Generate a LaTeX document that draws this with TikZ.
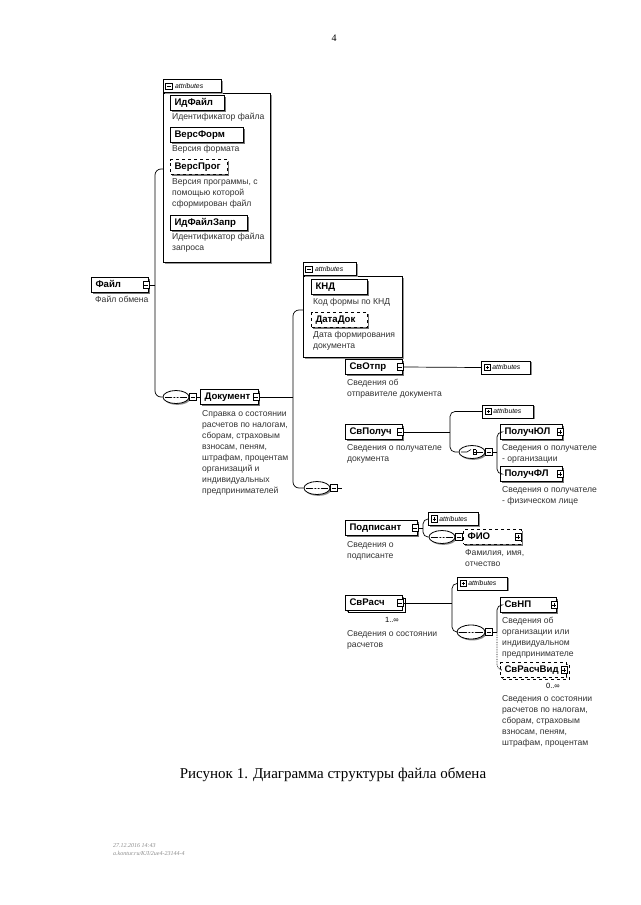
\documentclass[tikz,border=0pt]{standalone}
\usepackage{fontspec}
\setmainfont{Liberation Sans}
\newfontfamily\seriffont{Liberation Serif}
\usetikzlibrary{shadows,shapes.geometric,calc}
\begin{document}
\begin{tikzpicture}[x=1pt,y=-1pt,
  conn/.style={line width=0.7pt},
  el/.style={draw, line width=1.1pt, fill=white, anchor=west, minimum height=14.5pt,
    inner xsep=4pt, inner ysep=0pt, text height=7pt, text depth=2pt,
    font=\bfseries\fontsize{9.6}{10}\selectfont, align=left,
    drop shadow={shadow xshift=1.6pt, shadow yshift=-1.6pt, fill=black!55, opacity=1}},
  multi/.style={copy shadow={shadow xshift=2.5pt, shadow yshift=-2.5pt, draw, fill=white}},
  sqm/.style={draw, line width=0.6pt, fill=white, minimum size=6.5pt, inner sep=0pt,
    path picture={\draw[line width=0.6pt] ([xshift=1.3pt]path picture bounding box.west) -- ([xshift=-1.3pt]path picture bounding box.east);}},
  sqp/.style={draw, line width=0.6pt, fill=white, minimum size=6.5pt, inner sep=0pt,
    path picture={\draw[line width=0.6pt] ([xshift=1.3pt]path picture bounding box.west) -- ([xshift=-1.3pt]path picture bounding box.east)
      ([yshift=1.3pt]path picture bounding box.south) -- ([yshift=-1.3pt]path picture bounding box.north);}},
  ov/.style={ellipse, draw, line width=0.8pt, fill=white, minimum width=26pt, minimum height=13pt, inner sep=0pt,
    drop shadow={shadow xshift=1.4pt, shadow yshift=-1.4pt, fill=black!45, opacity=1}},
  seqsym/.style={path picture={
    \draw[line width=0.6pt] ([xshift=2pt]path picture bounding box.west) -- ([xshift=-2pt]path picture bounding box.east);
    \foreach \d in {-3.2,0,3.2} \fill ([xshift=\d pt]path picture bounding box.center) circle (1.1pt);}},
  chsym/.style={path picture={
    \draw[line width=0.6pt] ([xshift=2pt]path picture bounding box.west) -- ([xshift=-5pt]path picture bounding box.center) -- ([xshift=-1pt,yshift=2.5pt]path picture bounding box.center);
    \draw[line width=0.6pt] ([xshift=1pt,yshift=3.2pt]path picture bounding box.center) -- ([xshift=1pt,yshift=-3.2pt]path picture bounding box.center);
    \foreach \d in {-2.5,0,2.5} \draw[line width=0.6pt] ([xshift=1pt,yshift=\d pt]path picture bounding box.center) -- ([xshift=4pt,yshift=\d pt]path picture bounding box.center);
    \draw[line width=0.6pt] ([xshift=4pt,yshift=2.5pt]path picture bounding box.center) -- ([xshift=4pt,yshift=-2.5pt]path picture bounding box.center);
    \draw[line width=0.6pt] ([xshift=4pt]path picture bounding box.center) -- ([xshift=-2pt]path picture bounding box.east);}},
  cont/.style={draw, line width=0.6pt, fill=white, inner sep=0pt, anchor=north west,
    drop shadow={shadow xshift=1.2pt, shadow yshift=-1.2pt, fill=black!40, opacity=1}},
  tab/.style={draw, line width=0.6pt, fill=white, inner sep=0pt, anchor=south west, minimum height=13pt,
    drop shadow={shadow xshift=1.2pt, shadow yshift=-1.2pt, fill=black!40, opacity=1}},
  tabtxt/.style={anchor=west, inner sep=0pt, font=\itshape\fontsize{6.8}{7}\selectfont},
  attc/.style={draw, line width=0.8pt, fill=white, anchor=west, minimum height=13pt, inner xsep=2pt, inner ysep=0pt,
    font=\itshape\fontsize{6.8}{7}\selectfont, align=left,
    drop shadow={shadow xshift=1.4pt, shadow yshift=-1.4pt, fill=black!45, opacity=1}},
  desc/.style={anchor=north west, align=left, inner sep=0pt, font=\fontsize{8.6}{11}\selectfont, text=black!80},
  mult/.style={inner sep=0pt, font=\fontsize{7.5}{8}\selectfont}
]
\fill[white] (0,0) rectangle (640,905);
\useasboundingbox (0,0) rectangle (640,905);

\node[font=\seriffont\fontsize{10}{12}\selectfont] (pg) at (334,38) {4};

% ---------- first attributes group
\node[cont, minimum width=107pt, minimum height=169pt] (attr1) at (163,93) {};
\node[tab, minimum width=58pt] (tab1) at (163,93) {};
\node[sqm] (tab1sq) at ([xshift=6pt]tab1.west) {};
\node[tabtxt] (tab1t) at ([xshift=12pt]tab1.west) {attributes};

\node[el, text width=46pt] (idf) at (170,103) {ИдФайл};
\node[desc] (idfd) at (172,113) {Идентификатор файла};
\node[el, text width=65pt] (vf) at (170,135) {ВерсФорм};
\node[desc] (vfd) at (172,145) {Версия формата};
\node[el, dashed, text width=49pt] (vp) at (170,167) {ВерсПрог};
\node[desc] (vpd) at (172,178) {Версия программы, с\\помощью которой\\сформирован файл};
\node[el, text width=69pt] (idfz) at (170,223) {ИдФайлЗапр};
\node[desc] (idfzd) at (172,233) {Идентификатор файла\\запроса};

% ---------- Файл
\node[el, text width=49pt] (fajl) at (91,285) {Файл};
\node[sqm] (fajlsq) at ([xshift=-3pt]fajl.east) {};
\node[desc] (fajld) at (95,296) {Файл обмена};

\coordinate (a1in) at (163,169);
\coordinate (j1) at (155,285);

% ---------- Документ
\node[ov, seqsym] (ov1) at (176,397) {};
\node[sqm] (ov1sq) at ([xshift=3.2pt]ov1.east) {};
\node[el, text width=50pt] (dok) at (200,397) {Документ};
\node[sqm] (doksq) at ([xshift=-3pt]dok.east) {};
\node[desc] (dokd) at (202,410) {Справка о состоянии\\расчетов по налогам,\\сборам, страховым\\взносам, пеням,\\штрафам, процентам\\организаций и\\индивидуальных\\предпринимателей};

\draw[conn] (fajlsq.east) -- (j1);
\draw[conn, rounded corners=6pt] (a1in) -- (155,169) -- (155,397) -- (ov1.west);
\draw[conn] (ov1sq.east) -- (dok.west);

% ---------- second attributes group
\node[cont, minimum width=99pt, minimum height=81pt] (attr2) at (303,276) {};
\node[tab, minimum width=53pt] (tab2) at (303,276) {};
\node[sqm] (tab2sq) at ([xshift=6pt]tab2.west) {};
\node[tabtxt] (tab2t) at ([xshift=12pt]tab2.west) {attributes};
\node[el, text width=48pt] (knd) at (311,287) {КНД};
\node[desc] (kndd) at (313,298) {Код формы по КНД};
\node[el, dashed, text width=48pt] (dd) at (311,320) {ДатаДок};
\node[desc] (ddd) at (313,331) {Дата формирования\\документа};

\coordinate (j2) at (293,397);
\coordinate (a2in) at (303,310);
\node[ov, seqsym] (ov2) at (317,488) {};
\node[sqm] (ov2sq) at ([xshift=3.2pt]ov2.east) {};
\draw[conn] (doksq.east) -- (j2);
\draw[conn, rounded corners=6pt] (a2in) -- (293,310) -- (293,488) -- (ov2.west);
\coordinate (j3) at (342,488);
\draw[conn] (ov2sq.east) -- (j3);

% ---------- СвОтпр
\node[el, text width=49pt] (svo) at (345,367) {СвОтпр};
\node[sqm] (svosq) at ([xshift=-3pt]svo.east) {};
\node[desc] (svod) at (347,379) {Сведения об\\отправителе документа};
\node[attc, text width=45pt] (svoa) at (481,367.5) {\hspace*{9pt}attributes};
\node[sqp] (svoasq) at ([xshift=6.5pt]svoa.west) {};
\draw[conn] (svosq.east) -- (svoa.west);

% ---------- СвПолуч
\node[el, text width=49pt] (svp) at (345,432) {СвПолуч};
\node[sqm] (svpsq) at ([xshift=-3pt]svp.east) {};
\node[desc] (svpd) at (347,444) {Сведения о получателе\\документа};
\coordinate (j4) at (450,432);
\draw[conn] (svpsq.east) -- (j4);
\node[attc, text width=47pt] (svpa) at (482,411.5) {\hspace*{9pt}attributes};
\node[sqp] (svpasq) at ([xshift=6.5pt]svpa.west) {};
\node[ov, chsym] (ov3) at (472,452) {};
\node[sqm] (ov3sq) at ([xshift=3.2pt]ov3.east) {};
\draw[conn, rounded corners=5pt] (svpa.west) -- (450,411.5) -- (450,452) -- (ov3.west);
\coordinate (j5) at (497,452);
\draw[conn] (ov3sq.east) -- (j5);
\node[el, text width=54pt] (pul) at (500,432) {ПолучЮЛ};
\node[sqp] (pulsq) at ([xshift=-3pt]pul.east) {};
\node[desc] (puld) at (502,444) {Сведения о получателе\\- организации};
\node[el, text width=54pt] (pfl) at (500,474) {ПолучФЛ};
\node[sqp] (pflsq) at ([xshift=-3pt]pfl.east) {};
\node[desc] (pfld) at (502,486) {Сведения о получателе\\- физическом лице};
\draw[conn, rounded corners=5pt] (pul.west) -- (497,432) -- (497,474) -- (pfl.west);

% ---------- Подписант
\node[el, text width=64pt] (pod) at (345,528) {Подписант};
\node[sqm] (podsq) at ([xshift=-3pt]pod.east) {};
\node[desc] (podd) at (347,541) {Сведения о\\подписанте};
\coordinate (j6) at (423,528);
\draw[conn] (podsq.east) -- (j6);
\node[attc, text width=46pt] (poda) at (428,519) {\hspace*{9pt}attributes};
\node[sqp] (podasq) at ([xshift=6.5pt]poda.west) {};
\node[ov, seqsym] (ov4) at (442,537) {};
\node[sqm] (ov4sq) at ([xshift=3.2pt]ov4.east) {};
\draw[conn, rounded corners=5pt] (poda.west) -- (423,519) -- (423,537) -- (ov4.west);
\node[el, dashed, text width=50pt] (fio) at (463,537) {ФИО};
\node[sqp] (fiosq) at ([xshift=-4pt]fio.east) {};
\node[desc] (fiod) at (465,549) {Фамилия, имя,\\отчество};
\draw[conn] (ov4sq.east) -- (fio.west);

% ---------- СвРасч
\node[el, multi, text width=49pt] (svr) at (345,603) {СвРасч};
\node[sqm] (svrsq) at ([xshift=-3pt]svr.east) {};
\node[mult, anchor=east] (svrm) at (399,620) {1..∞};
\node[desc] (svrd) at (347,630) {Сведения о состоянии\\расчетов};
\coordinate (j7) at (452,603);
\draw[conn] (svrsq.east) -- (j7);
\node[attc, text width=46pt] (svra) at (457,583.5) {\hspace*{9pt}attributes};
\node[sqp] (svrasq) at ([xshift=6.5pt]svra.west) {};
\node[ov, seqsym, minimum width=28pt, minimum height=14pt] (ov5) at (471,632) {};
\node[sqm] (ov5sq) at ([xshift=3.2pt]ov5.east) {};
\draw[conn, rounded corners=5pt] (svra.west) -- (452,583.5) -- (452,632) -- (ov5.west);
\coordinate (j8) at (497,632);
\draw[conn] (ov5sq.east) -- (j8);
\node[el, text width=48pt] (svnp) at (500,605) {СвНП};
\node[sqp] (svnpsq) at ([xshift=-3pt]svnp.east) {};
\node[desc] (svnpd) at (502,617) {Сведения об\\организации или\\индивидуальном\\предпринимателе};
\node[el, dashed, multi, text width=58pt] (svrv) at (500,670) {СвРасчВид};
\node[sqp] (svrvsq) at ([xshift=-3pt]svrv.east) {};
\node[mult, anchor=east] (svrvm) at (560,686) {0..∞};
\node[desc] (svrvd) at (502,695) {Сведения о состоянии\\расчетов по налогам,\\сборам, страховым\\взносам, пеням,\\штрафам, процентам};
\draw[conn, rounded corners=5pt] (j8) -- (497,605) -- (svnp.west);
\draw[conn, densely dotted, rounded corners=5pt] (j8) -- (497,670) -- (svrv.west);

% ---------- caption and footer
\node[font=\seriffont\fontsize{15}{18}\selectfont] (cap) at (333,775) {Рисунок 1. Диаграмма структуры файла обмена};
\node[anchor=west, align=left, inner sep=0pt, font=\seriffont\itshape\fontsize{6}{8}\selectfont, text=black!45] (foot) at (113,850) {27.12.2016 14:43\\a.kontur.ru/КЛ/2ue4-23144-4};
\end{tikzpicture}
\end{document}
